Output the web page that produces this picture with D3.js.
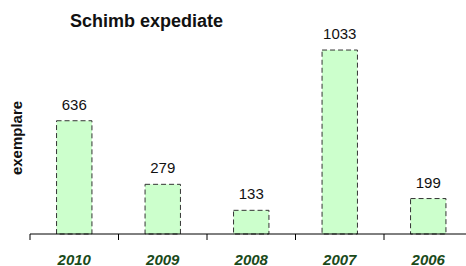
<!DOCTYPE html>
<html>
<head>
    <meta charset="utf-8" />
    <title>Schimb expediate</title>
    <script src="https://d3js.org/d3.v7.min.js"></script>
    <style>
        body { margin: 0; background: white; }
        text { font-family: Arial, "Liberation Sans", sans-serif; }
    </style>
</head>
<body>
    <div id="chart"></div>
    <script>
        let years = ['2010', '2009', '2008', '2007', '2006'];
        let values = [636, 279, 133, 1033, 199];
        let yMax = 1200;

        let width = 466, height = 266;

        let svg = d3.select('#chart').append('svg')
            .attr('width', width)
            .attr('height', height);

        let x = d3.scaleBand().domain(years).range([30, 472.5]).paddingInner(0.6).paddingOuter(0.3);
        let y = d3.scaleLinear().domain([0, yMax]).range([234, 20.3]);

        // bars
        svg.selectAll('rect.bar')
            .data(values)
            .enter()
            .append('rect')
            .attr('class', 'bar')
            .attr('x', (d, i) => x(years[i]))
            .attr('y', d => y(d))
            .attr('width', x.bandwidth())
            .attr('height', d => y(0) - y(d))
            .attr('fill', '#ccffcc')
            .attr('stroke', '#333')
            .attr('stroke-width', 1)
            .attr('stroke-dasharray', '5,3');

        // value labels
        svg.selectAll('text.val')
            .data(values)
            .enter()
            .append('text')
            .attr('class', 'val')
            .attr('x', (d, i) => x(years[i]) + x.bandwidth() / 2)
            .attr('y', d => y(d) - 11)
            .attr('text-anchor', 'middle')
            .attr('font-size', 15)
            .attr('fill', '#111')
            .text(d => d);

        // x axis
        let axis = svg.append('g').attr('transform', 'translate(0,234)');
        axis.append('line')
            .attr('x1', 30).attr('x2', width)
            .attr('stroke', '#000').attr('stroke-width', 1);
        let step = x.step();
        axis.selectAll('line.tick')
            .data(d3.range(years.length + 1))
            .enter()
            .append('line')
            .attr('class', 'tick')
            .attr('x1', i => 30 + i * step).attr('x2', i => 30 + i * step)
            .attr('y1', 0).attr('y2', 6)
            .attr('stroke', '#000');
        axis.selectAll('text.cat')
            .data(years)
            .enter()
            .append('text')
            .attr('class', 'cat')
            .attr('x', d => x(d) + x.bandwidth() / 2)
            .attr('y', 30.5)
            .attr('text-anchor', 'middle')
            .attr('font-size', 15)
            .attr('font-weight', 'bold')
            .attr('font-style', 'italic')
            .attr('fill', '#1a4a1a')
            .text(d => d);

        // title
        svg.append('text')
            .attr('x', 146.5).attr('y', 27)
            .attr('text-anchor', 'middle')
            .attr('font-size', 18)
            .attr('font-weight', 'bold')
            .attr('fill', '#111')
            .text('Schimb expediate');

        // y label
        svg.append('text')
            .attr('transform', 'translate(22,138) rotate(-90)')
            .attr('text-anchor', 'middle')
            .attr('font-size', 15)
            .attr('font-weight', 'bold')
            .attr('fill', '#111')
            .text('exemplare');
    </script>
</body>
</html>
